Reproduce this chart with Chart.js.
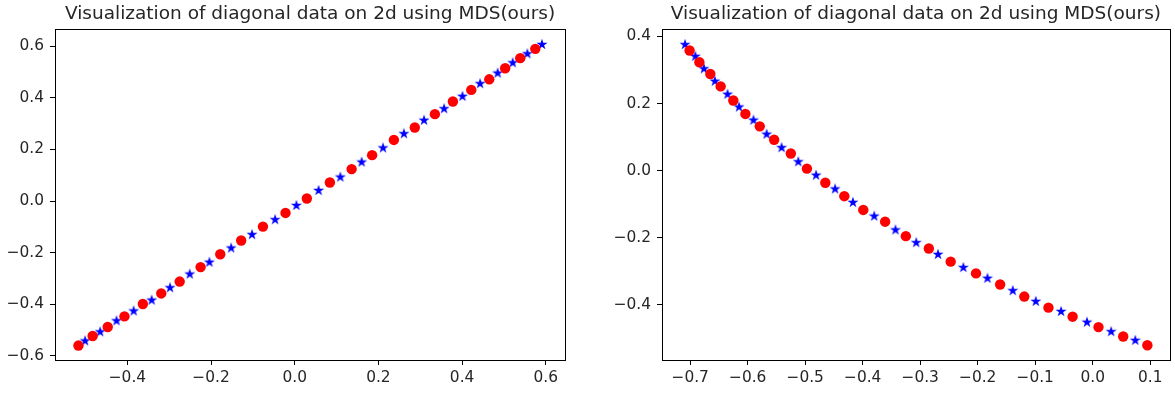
<!DOCTYPE html>
<html>
<head>
<meta charset="utf-8">
<script src="https://cdn.jsdelivr.net/npm/chart.js@4.4.1/dist/chart.umd.min.js"></script>
<style>
  body { margin: 0; background: #fff; }
  #wrap { position: relative; width: 1175px; height: 394px; }
  #wrap canvas { position: absolute; top: 0; }
</style>
</head>
<body>
<div id="wrap">
  <canvas id="chartLeft" width="585" height="394" style="left:0"></canvas>
  <canvas id="chartRight" width="590" height="394" style="left:585px"></canvas>
</div>
<script>
var titleText = "Visualization of diagonal data on 2d using MDS(ours)";

// left plot: red circles / blue stars
var leftRedX = [-0.517, -0.483, -0.447, -0.407, -0.363, -0.319, -0.275, -0.225, -0.178, -0.128, -0.076, -0.022, 0.029,
                0.084, 0.136, 0.185, 0.237, 0.287, 0.335, 0.378, 0.422, 0.465, 0.503, 0.539, 0.575];
var leftRedY = [-0.560, -0.523, -0.488, -0.447, -0.399, -0.358, -0.312, -0.256, -0.206, -0.153, -0.099, -0.046, 0.010,
                0.072, 0.124, 0.178, 0.237, 0.285, 0.337, 0.386, 0.431, 0.472, 0.515, 0.554, 0.590];
var leftBlueX = [-0.501, -0.465, -0.426, -0.385, -0.342, -0.298, -0.251, -0.204, -0.152, -0.102, -0.047, 0.004, 0.057,
                 0.109, 0.160, 0.211, 0.261, 0.309, 0.357, 0.401, 0.443, 0.485, 0.521, 0.556, 0.591];
var leftBlueY = [-0.540, -0.505, -0.462, -0.424, -0.382, -0.334, -0.281, -0.235, -0.180, -0.128, -0.070, -0.015, 0.043,
                 0.095, 0.153, 0.208, 0.263, 0.315, 0.360, 0.408, 0.457, 0.498, 0.538, 0.573, 0.609];
var leftXTicks = [-0.4, -0.2, 0.0, 0.2, 0.4, 0.6];
var leftYTicks = [-0.6, -0.4, -0.2, 0.0, 0.2, 0.4, 0.6];
var leftXRange = [-0.573, 0.646];
var leftYRange = [-0.616, 0.667];

// right plot
var rightRedX = [-0.701, -0.684, -0.665, -0.647, -0.625, -0.604, -0.579, -0.554, -0.525, -0.497, -0.465, -0.432, -0.399,
                 -0.361, -0.325, -0.285, -0.247, -0.203, -0.161, -0.119, -0.077, -0.035, 0.010, 0.053, 0.095];
var rightRedY = [0.358, 0.323, 0.288, 0.251, 0.209, 0.169, 0.132, 0.092, 0.051, 0.006, -0.036, -0.076, -0.117,
                 -0.152, -0.195, -0.232, -0.271, -0.306, -0.339, -0.375, -0.408, -0.435, -0.466, -0.494, -0.520];
var rightBlueX = [-0.709, -0.691, -0.676, -0.657, -0.635, -0.615, -0.590, -0.567, -0.541, -0.512, -0.481, -0.448, -0.417,
                  -0.380, -0.343, -0.307, -0.269, -0.225, -0.183, -0.139, -0.099, -0.055, -0.010, 0.032, 0.074];
var rightBlueY = [0.377, 0.342, 0.305, 0.268, 0.229, 0.191, 0.152, 0.110, 0.070, 0.028, -0.012, -0.053, -0.093,
                  -0.134, -0.175, -0.213, -0.248, -0.287, -0.319, -0.356, -0.388, -0.418, -0.450, -0.478, -0.504];
var rightXTicks = [-0.7, -0.6, -0.5, -0.4, -0.3, -0.2, -0.1, 0.0, 0.1];
var rightYTicks = [-0.4, -0.2, 0.0, 0.2, 0.4];
var rightXRange = [-0.749, 0.134];
var rightYRange = [-0.564, 0.422];

Chart.defaults.font.family = "'DejaVu Sans', sans-serif";
Chart.defaults.font.size = 15.4;
Chart.defaults.color = '#262626';

function toPoints(xs, ys) {
    return xs.map(function (x, i) { return {x: x, y: ys[i]}; });
}

function fmt(v) {
    return (v < -1e-9 ? '\u2212' : '') + Math.abs(v).toFixed(1);
}

// filled 5 point star like matplotlib '*'
function makeStar(r, color) {
    var c = document.createElement('canvas');
    var s = Math.ceil(r * 2 + 2);
    c.width = s;
    c.height = s;
    var ctx = c.getContext('2d');
    ctx.fillStyle = color;
    ctx.beginPath();
    for (var i = 0; i < 10; i++) {
        var rad = i % 2 === 0 ? r : r * 0.382;
        var a = -Math.PI / 2 + i * Math.PI / 5;
        var px = s / 2 + rad * Math.cos(a);
        var py = s / 2 + rad * Math.sin(a) + r * 0.1;
        if (i === 0) ctx.moveTo(px, py); else ctx.lineTo(px, py);
    }
    ctx.closePath();
    ctx.fill();
    return c;
}
var starImg = makeStar(5.8, '#0000ff');

var framePlugin = {
    id: 'frame',
    afterDraw: function (chart) {
        var a = chart.chartArea;
        var ctx = chart.ctx;
        ctx.save();
        ctx.strokeStyle = '#000';
        ctx.lineWidth = 1;
        ctx.strokeRect(Math.round(a.left) + 0.5, Math.round(a.top) + 0.5,
            Math.round(a.right - a.left), Math.round(a.bottom - a.top));
        ctx.restore();
    }
};

function makeChart(el, cfg) {
    return new Chart(el, {
        type: 'scatter',
        data: {
            datasets: [
                {
                    data: toPoints(cfg.redX, cfg.redY),
                    pointStyle: 'circle',
                    pointRadius: 5.2,
                    backgroundColor: '#ff0000',
                    borderColor: '#ff0000',
                    borderWidth: 0
                },
                {
                    data: toPoints(cfg.blueX, cfg.blueY),
                    pointStyle: starImg,
                    backgroundColor: '#0000ff',
                    borderColor: '#0000ff'
                }
            ]
        },
        options: {
            responsive: false,
            animation: false,
            layout: {
                padding: {left: 0, right: cfg.padRight, top: 0, bottom: 0}
            },
            plugins: {
                legend: {display: false},
                tooltip: {enabled: false},
                title: {
                    display: true,
                    text: titleText,
                    fullSize: false,
                    color: '#262626',
                    font: {size: 18.5, weight: 'normal'},
                    padding: {top: 3, bottom: 3.8}
                }
            },
            scales: {
                x: {
                    type: 'linear',
                    min: cfg.xRange[0],
                    max: cfg.xRange[1],
                    border: {display: false},
                    grid: {
                        drawOnChartArea: false,
                        drawTicks: true,
                        tickLength: 5,
                        color: '#000'
                    },
                    ticks: {
                        padding: 4,
                        maxRotation: 0,
                        callback: function (v) { return fmt(v); }
                    },
                    afterBuildTicks: function (scale) {
                        scale.ticks = cfg.xTicks.map(function (v) { return {value: v}; });
                    },
                    afterFit: function (scale) { scale.height = 34; }
                },
                y: {
                    type: 'linear',
                    min: cfg.yRange[0],
                    max: cfg.yRange[1],
                    border: {display: false},
                    grid: {
                        drawOnChartArea: false,
                        drawTicks: true,
                        tickLength: 5,
                        color: '#000'
                    },
                    ticks: {
                        padding: 6,
                        callback: function (v) { return fmt(v); }
                    },
                    afterBuildTicks: function (scale) {
                        scale.ticks = cfg.yTicks.map(function (v) { return {value: v}; });
                    },
                    afterFit: function (scale) { scale.width = cfg.yWidth; }
                }
            }
        },
        plugins: [framePlugin]
    });
}

makeChart(document.getElementById('chartLeft'), {
    redX: leftRedX, redY: leftRedY, blueX: leftBlueX, blueY: leftBlueY,
    xTicks: leftXTicks, yTicks: leftYTicks, xRange: leftXRange, yRange: leftYRange,
    yWidth: 55, padRight: 20
});

makeChart(document.getElementById('chartRight'), {
    redX: rightRedX, redY: rightRedY, blueX: rightBlueX, blueY: rightBlueY,
    xTicks: rightXTicks, yTicks: rightYTicks, xRange: rightXRange, yRange: rightYRange,
    yWidth: 77, padRight: 5
});
</script>
</body>
</html>
